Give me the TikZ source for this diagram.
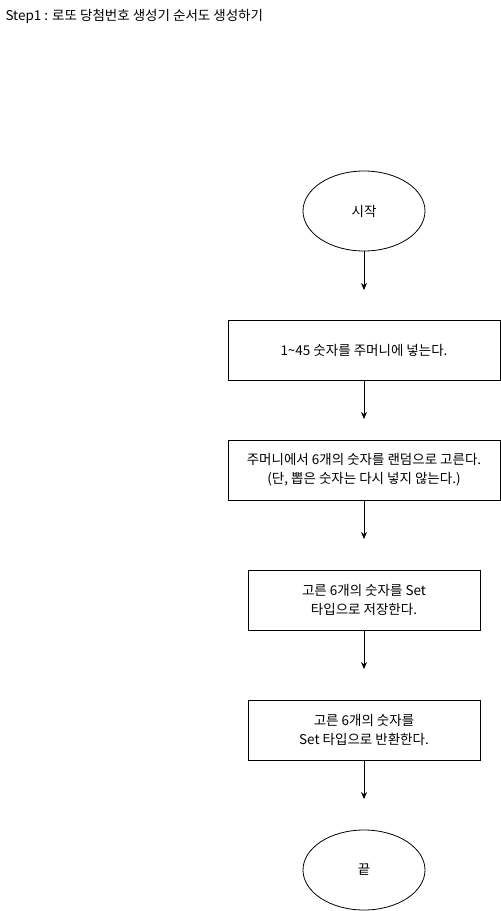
\documentclass[tikz,border=0pt]{standalone}
\usepackage{fontspec}
\setmainfont{Noto Sans CJK KR}
\usetikzlibrary{arrows.meta,shapes.geometric}
\begin{document}
\begin{tikzpicture}[x=1pt,y=-1pt,
  every node/.style={font=\fontsize{13.5}{19}\selectfont},
  term/.style={ellipse, draw, line width=0.8pt, minimum width=122pt, minimum height=80pt, inner sep=0pt},
  proc/.style={rectangle, draw, line width=0.8pt, minimum height=60pt, align=center, inner sep=0pt},
  flow/.style={line width=0.8pt, -{Stealth[length=7pt,width=6pt]}}]
\useasboundingbox (0,0) rectangle (501,911);
\node[anchor=west, font=\fontsize{13.5}{16}\selectfont] (title) at (2,16){Step1 : 로또 당첨번호 생성기 순서도 생성하기};
\node[term] (fc0) at (364,211){시작};
\node[proc, minimum width=272pt] (fc1) at (364,350){1\textasciitilde45 숫자를 주머니에 넣는다.};
\node[proc, minimum width=272pt] (fc2) at (364,470){주머니에서 6개의 숫자를 랜덤으로 고른다.\\(단, 뽑은 숫자는 다시 넣지 않는다.)};
\node[proc, minimum width=232pt] (fc3) at (364,600){고른 6개의 숫자를 Set\\타입으로 저장한다.};
\node[proc, minimum width=232pt] (fc4) at (364,730){고른 6개의 숫자를\\Set 타입으로 반환한다.};
\node[term] (fc5) at (364,870){끝};
\coordinate (a0) at (364,290);
\coordinate (a1) at (364,419);
\coordinate (a2) at (364,539);
\coordinate (a3) at (364,669);
\coordinate (a4) at (364,799);
\draw[flow](fc0) -- (a0);
\draw[flow](fc1) -- (a1);
\draw[flow](fc2) -- (a2);
\draw[flow](fc3) -- (a3);
\draw[flow](fc4) -- (a4);

\end{tikzpicture}
\end{document}
